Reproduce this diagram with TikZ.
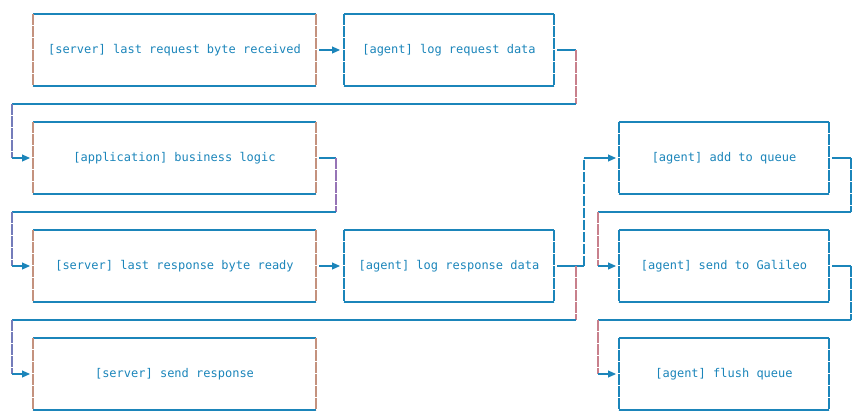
\documentclass[tikz,border=0pt]{standalone}
\usepackage{fontspec}
\newfontfamily\asciifont{DejaVu Sans Mono}
\usetikzlibrary{arrows.meta,positioning}
\definecolor{ink}{RGB}{27,133,186}
\definecolor{warm}{RGB}{196,146,126}
\definecolor{rose}{RGB}{200,128,140}
\definecolor{violet}{RGB}{150,116,182}
\definecolor{slate}{RGB}{116,124,186}

\begin{document}
\begin{tikzpicture}[
  x=1pt, y=-1pt,
  node distance=36pt and 28pt,
  box/.style={minimum height=72pt, inner sep=0pt, outer sep=0pt, text=ink, font=\asciifont\fontsize{12}{14}\selectfont},
  wide/.style={box, minimum width=283pt},
  narrow/.style={box, minimum width=210pt},
  hline/.style={ink, line width=1.05pt},
  vbar/.style={ink, line width=1.05pt, dash pattern=on 10.5pt off 1.5pt},
  arrow/.style={hline, -{Triangle[length=8pt,width=7pt]}, shorten >=3pt}
]
\useasboundingbox (0,0) rectangle (861,418);

\node[wide] (recv) at (174.5,50) {[server] last request byte received};
\node[narrow, right=of recv] (logreq) {[agent] log request data};
\node[wide, below=of recv] (logic) {[application] business logic};
\node[wide, below=of logic] (ready) {[server] last response byte ready};
\node[narrow, right=of ready] (logresp) {[agent] log response data};
\node[wide, below=of ready] (send) {[server] send response};
\node[narrow, right=65pt of logresp] (galileo) {[agent] send to Galileo};
\node[narrow, above=of galileo] (queue) {[agent] add to queue};
\node[narrow, below=of galileo] (flush) {[agent] flush queue};

% box outlines
\foreach \n/\c in {recv/warm, logreq/ink, logic/warm, ready/warm, logresp/ink,
                   send/warm, queue/ink, galileo/ink, flush/ink} {
  \draw[hline] (\n.north west) -- (\n.north east) (\n.south west) -- (\n.south east);
  \draw[vbar, \c] (\n.north west) -- (\n.south west) (\n.north east) -- (\n.south east);
}

% lanes
\coordinate[left=21pt of recv.west] (west);
\coordinate[left=21pt of galileo.west] (east);
\coordinate[below=18pt of recv.south] (lane1);
\coordinate[below=18pt of logic.south] (lane2);
\coordinate[below=18pt of ready.south] (lane3);
\coordinate[right=22pt of logreq.east] (out2);
\coordinate[right=20pt of logic.east] (out3);
\coordinate[right=22pt of logresp.east] (split);
\coordinate[right=30pt of logresp.east] (out5);
\coordinate[right=22pt of queue.east] (out7);
\coordinate[right=22pt of galileo.east] (out8);

\draw[arrow, shorten <=3pt, shorten >=4pt] (recv) -- (logreq);

\draw[hline, shorten <=3pt] (logreq.east) -- (out2);
\draw[vbar, rose] (out2) -- (out2 |- lane1);
\draw[hline] (out2 |- lane1) -- (west |- lane1);
\draw[vbar, slate] (west |- lane1) -- (west |- logic.west);
\draw[arrow] (west |- logic.west) -- (logic.west);

\draw[hline, shorten <=3pt] (logic.east) -- (out3);
\draw[vbar, violet] (out3) -- (out3 |- lane2);
\draw[hline] (out3 |- lane2) -- (west |- lane2);
\draw[vbar, slate] (west |- lane2) -- (west |- ready.west);
\draw[arrow] (west |- ready.west) -- (ready.west);

\draw[arrow, shorten <=3pt, shorten >=4pt] (ready) -- (logresp);

\draw[hline, shorten <=3pt] (logresp.east) -- (out5);
\draw[vbar] (out5) -- (out5 |- queue.west);
\draw[arrow] (out5 |- queue.west) -- (queue.west);
\draw[vbar, rose] (split) -- (split |- lane3);
\draw[hline] (split |- lane3) -- (west |- lane3);
\draw[vbar, slate] (west |- lane3) -- (west |- send.west);
\draw[arrow] (west |- send.west) -- (send.west);

\draw[hline, shorten <=3pt] (queue.east) -- (out7);
\draw[vbar] (out7) -- (out7 |- lane2);
\draw[hline] (out7 |- lane2) -- (east |- lane2);
\draw[vbar, rose] (east |- lane2) -- (east |- galileo.west);
\draw[arrow] (east |- galileo.west) -- (galileo.west);

\draw[hline, shorten <=3pt] (galileo.east) -- (out8);
\draw[vbar] (out8) -- (out8 |- lane3);
\draw[hline] (out8 |- lane3) -- (east |- lane3);
\draw[vbar, rose] (east |- lane3) -- (east |- flush.west);
\draw[arrow] (east |- flush.west) -- (flush.west);
\end{tikzpicture}
\end{document}
